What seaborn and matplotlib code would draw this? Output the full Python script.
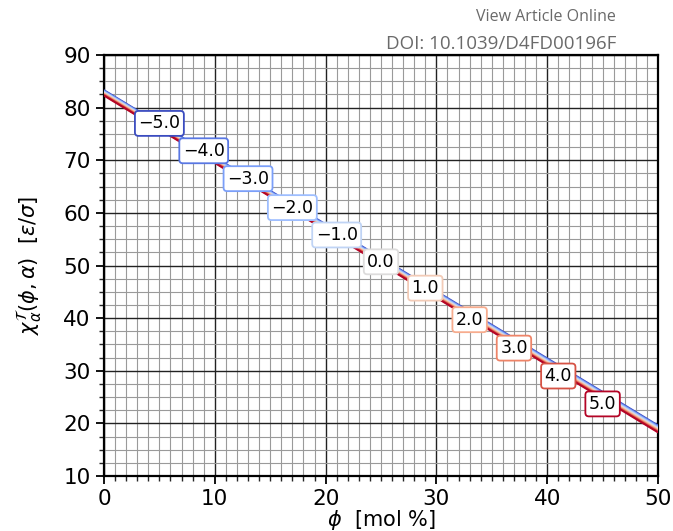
import numpy as np
import pandas as pd
import matplotlib
matplotlib.use("Agg")
import matplotlib.pyplot as plt
import seaborn as sns
from matplotlib.ticker import MultipleLocator

# ---- data ----
alphas = [-5.0, -4.0, -3.0, -2.0, -1.0, 0.0, 1.0, 2.0, 3.0, 4.0, 5.0]
phi_points = [0.0, 50.0]
chi_at_phi0 = [83.3, 83.2, 83.1, 83.0, 82.9, 82.8, 82.7, 82.6, 82.5, 82.4, 82.3]
chi_at_phi50 = [19.60, 19.47, 19.34, 19.21, 19.08, 18.95, 18.82, 18.69, 18.56, 18.43, 18.30]
label_phi = [5.0, 9.0, 13.0, 17.0, 21.0, 25.0, 29.0, 33.0, 37.0, 41.0, 45.0]
label_chi = [77.0, 71.8, 66.5, 61.0, 55.8, 50.7, 45.7, 39.7, 34.3, 29.0, 23.7]
x_ticks = [0, 10, 20, 30, 40, 50]
y_ticks = [10, 20, 30, 40, 50, 60, 70, 80, 90]

rows = []
for a, c0, c50 in zip(alphas, chi_at_phi0, chi_at_phi50):
    for p, c in zip(phi_points, [c0, c50]):
        rows.append({"phi": p, "chi": c, "alpha": a})
df = pd.DataFrame(rows)

sns.set_style("white")
plt.rcParams['font.family'] = ['DejaVu Sans']
plt.rcParams['mathtext.fontset'] = 'dejavusans'
plt.rcParams['text.color'] = 'black'
plt.rcParams['axes.labelcolor'] = 'black'

fig = plt.figure(figsize=(6.73, 5.31), dpi=100)
ax = fig.add_axes([104/673, 1-476/531, (658-104)/673, (476-55)/531])

cmap = plt.get_cmap("coolwarm")
norm = plt.Normalize(-5, 5)
palette = {a: cmap(norm(a)) for a in alphas}

sns.lineplot(data=df, x="phi", y="chi", hue="alpha", palette=palette,
             linewidth=1.5, legend=False, ax=ax, zorder=3)

ax.set_xlim(0, 50)
ax.set_ylim(10, 90)
ax.set_xticks(x_ticks)
ax.set_yticks(y_ticks)
ax.xaxis.set_minor_locator(MultipleLocator(1))
ax.yaxis.set_minor_locator(MultipleLocator(2.5))
ax.grid(which="major", color="#222222", linewidth=1.0, zorder=0)
ax.grid(which="minor", color="#9a9a9a", linewidth=0.8, zorder=0)
ax.set_axisbelow(True)

for s in ax.spines.values():
    s.set_linewidth(1.6)
    s.set_color("black")
ax.tick_params(which="major", direction="out", length=6, width=1.3,
               labelsize=15.5, bottom=True, left=True, colors="black")
ax.tick_params(which="minor", direction="out", length=3.5, width=1.0,
               bottom=True, left=True)

ax.set_xlabel(r"$\phi$  [mol %]", fontsize=15, labelpad=-1)
ax.set_ylabel(r"$\chi_\alpha^\mathcal{T}(\phi,\alpha)$  $[\varepsilon/\sigma]$", fontsize=15, labelpad=14)

for a, lp, lc in zip(alphas, label_phi, label_chi):
    txt = f"{a:.1f}".replace("-", "\u2212")
    ax.text(lp, lc, txt, ha="center", va="center", fontsize=12.5, zorder=5,
            color="black",
            bbox=dict(boxstyle="round,pad=0.2", facecolor="white",
                      edgecolor=palette[a], linewidth=1.3))

fig.text(616/673, 1-17/531, "View Article Online", ha="right", va="center",
         fontsize=11.5, color="#6a6a6a", family="Open Sans")
fig.text(616/673, 1-44/531, "DOI: 10.1039/D4FD00196F", ha="right", va="center",
         fontsize=13.5, color="#6a6a6a", family="Open Sans")

fig.savefig("out.png", dpi=100)
